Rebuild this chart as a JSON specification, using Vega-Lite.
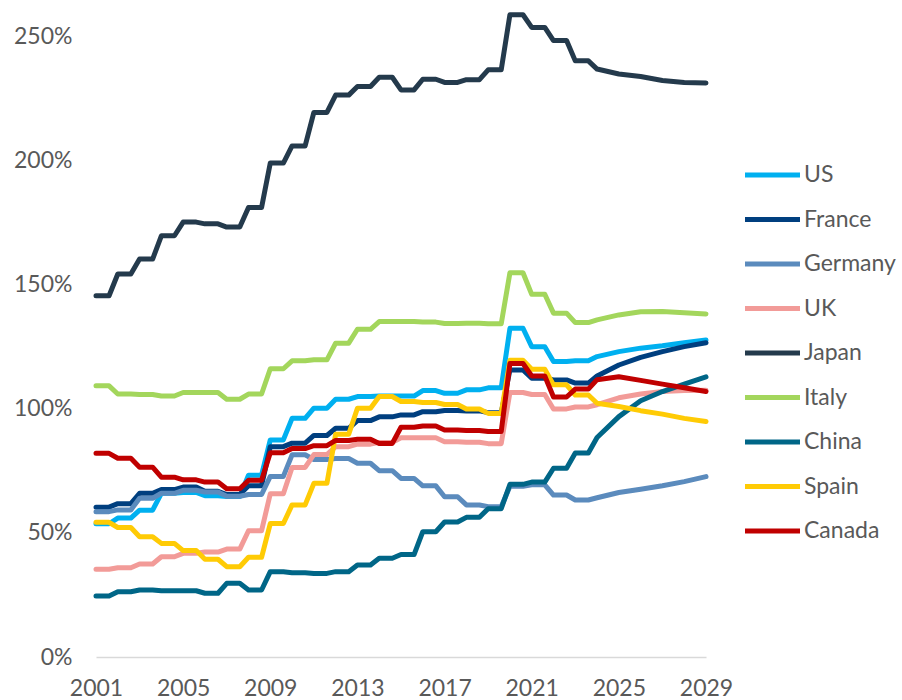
{
  "$schema": "https://vega.github.io/schema/vega-lite/v6.json",
  "autosize": {"type": "none"},
  "padding": {"left": 96, "top": 12, "right": 196, "bottom": 43},
  "width": 610,
  "height": 645,
  "background": "#ffffff",
  "config": {
    "view": {"stroke": null},
    "font": "Lato"
  },
  "data": {
    "values": [
      {"t":2001,"US":53.7,"France":60.4,"Germany":58.6,"UK":35.4,"Japan":145.6,"Italy":109.3,"China":24.6,"Spain":54.3,"Canada":82.1},
      {"t":2001.6,"US":53.7,"France":60.4,"Germany":58.6,"UK":35.4,"Japan":145.6,"Italy":109.3,"China":24.6,"Spain":54.3,"Canada":82.1},
      {"t":2002,"US":56.0,"France":61.8,"Germany":59.3,"UK":36.0,"Japan":154.4,"Italy":106.0,"China":26.3,"Spain":52.2,"Canada":80.1},
      {"t":2002.6,"US":56.0,"France":61.8,"Germany":59.3,"UK":36.0,"Japan":154.4,"Italy":106.0,"China":26.3,"Spain":52.2,"Canada":80.1},
      {"t":2003,"US":59.2,"France":66.0,"Germany":64.0,"UK":37.5,"Japan":160.4,"Italy":105.8,"China":27.0,"Spain":48.5,"Canada":76.5},
      {"t":2003.6,"US":59.2,"France":66.0,"Germany":64.0,"UK":37.5,"Japan":160.4,"Italy":105.8,"China":27.0,"Spain":48.5,"Canada":76.5},
      {"t":2004,"US":66.0,"France":67.5,"Germany":66.0,"UK":40.4,"Japan":169.8,"Italy":105.2,"China":26.7,"Spain":45.8,"Canada":72.5},
      {"t":2004.6,"US":66.0,"France":67.5,"Germany":66.0,"UK":40.4,"Japan":169.8,"Italy":105.2,"China":26.7,"Spain":45.8,"Canada":72.5},
      {"t":2005,"US":66.3,"France":68.5,"Germany":67.2,"UK":41.8,"Japan":175.3,"Italy":106.6,"China":26.7,"Spain":42.9,"Canada":71.4},
      {"t":2005.6,"US":66.3,"France":68.5,"Germany":67.2,"UK":41.8,"Japan":175.3,"Italy":106.6,"China":26.7,"Spain":42.9,"Canada":71.4},
      {"t":2006,"US":65.0,"France":66.8,"Germany":66.5,"UK":42.3,"Japan":174.6,"Italy":106.6,"China":25.7,"Spain":39.4,"Canada":70.5},
      {"t":2006.6,"US":65.0,"France":66.8,"Germany":66.5,"UK":42.3,"Japan":174.6,"Italy":106.6,"China":25.7,"Spain":39.4,"Canada":70.5},
      {"t":2007,"US":64.7,"France":65.5,"Germany":64.8,"UK":43.5,"Japan":173.3,"Italy":103.9,"China":29.7,"Spain":36.4,"Canada":67.8},
      {"t":2007.6,"US":64.7,"France":65.5,"Germany":64.8,"UK":43.5,"Japan":173.3,"Italy":103.9,"China":29.7,"Spain":36.4,"Canada":67.8},
      {"t":2008,"US":73.3,"France":69.0,"Germany":65.5,"UK":50.9,"Japan":181.2,"Italy":106.0,"China":27.0,"Spain":40.2,"Canada":71.2},
      {"t":2008.6,"US":73.3,"France":69.0,"Germany":65.5,"UK":50.9,"Japan":181.2,"Italy":106.0,"China":27.0,"Spain":40.2,"Canada":71.2},
      {"t":2009,"US":87.5,"France":84.8,"Germany":72.8,"UK":65.8,"Japan":199.1,"Italy":116.2,"China":34.4,"Spain":53.8,"Canada":82.3},
      {"t":2009.6,"US":87.5,"France":84.8,"Germany":72.8,"UK":65.8,"Japan":199.1,"Italy":116.2,"China":34.4,"Spain":53.8,"Canada":82.3},
      {"t":2010,"US":96.2,"France":86.2,"Germany":81.5,"UK":76.4,"Japan":206.0,"Italy":119.4,"China":34.0,"Spain":61.3,"Canada":84.0},
      {"t":2010.6,"US":96.2,"France":86.2,"Germany":81.5,"UK":76.4,"Japan":206.0,"Italy":119.4,"China":34.0,"Spain":61.3,"Canada":84.0},
      {"t":2011,"US":100.3,"France":89.3,"Germany":79.6,"UK":81.6,"Japan":219.5,"Italy":119.8,"China":33.7,"Spain":70.0,"Canada":85.2},
      {"t":2011.6,"US":100.3,"France":89.3,"Germany":79.6,"UK":81.6,"Japan":219.5,"Italy":119.8,"China":33.7,"Spain":70.0,"Canada":85.2},
      {"t":2012,"US":103.9,"France":92.2,"Germany":80.0,"UK":84.8,"Japan":226.5,"Italy":126.5,"China":34.4,"Spain":89.8,"Canada":87.3},
      {"t":2012.6,"US":103.9,"France":92.2,"Germany":80.0,"UK":84.8,"Japan":226.5,"Italy":126.5,"China":34.4,"Spain":89.8,"Canada":87.3},
      {"t":2013,"US":105.0,"France":95.3,"Germany":78.1,"UK":85.8,"Japan":230.0,"Italy":132.1,"China":37.1,"Spain":100.3,"Canada":87.8},
      {"t":2013.6,"US":105.0,"France":95.3,"Germany":78.1,"UK":85.8,"Japan":230.0,"Italy":132.1,"China":37.1,"Spain":100.3,"Canada":87.8},
      {"t":2014,"US":105.2,"France":96.8,"Germany":75.1,"UK":86.5,"Japan":233.7,"Italy":135.2,"China":39.8,"Spain":105.0,"Canada":86.1},
      {"t":2014.6,"US":105.2,"France":96.8,"Germany":75.1,"UK":86.5,"Japan":233.7,"Italy":135.2,"China":39.8,"Spain":105.0,"Canada":86.1},
      {"t":2015,"US":105.2,"France":97.6,"Germany":72.0,"UK":88.4,"Japan":228.6,"Italy":135.2,"China":41.3,"Spain":103.0,"Canada":92.6},
      {"t":2015.6,"US":105.2,"France":97.6,"Germany":72.0,"UK":88.4,"Japan":228.6,"Italy":135.2,"China":41.3,"Spain":103.0,"Canada":92.6},
      {"t":2016,"US":107.4,"France":98.9,"Germany":69.0,"UK":88.4,"Japan":232.9,"Italy":135.0,"China":50.5,"Spain":102.6,"Canada":93.1},
      {"t":2016.6,"US":107.4,"France":98.9,"Germany":69.0,"UK":88.4,"Japan":232.9,"Italy":135.0,"China":50.5,"Spain":102.6,"Canada":93.1},
      {"t":2017,"US":106.3,"France":99.4,"Germany":64.6,"UK":86.8,"Japan":231.6,"Italy":134.4,"China":54.4,"Spain":101.8,"Canada":91.5},
      {"t":2017.6,"US":106.3,"France":99.4,"Germany":64.6,"UK":86.8,"Japan":231.6,"Italy":134.4,"China":54.4,"Spain":101.8,"Canada":91.5},
      {"t":2018,"US":107.7,"France":99.2,"Germany":61.3,"UK":86.6,"Japan":232.7,"Italy":134.5,"China":56.3,"Spain":100.0,"Canada":91.3},
      {"t":2018.6,"US":107.7,"France":99.2,"Germany":61.3,"UK":86.6,"Japan":232.7,"Italy":134.5,"China":56.3,"Spain":100.0,"Canada":91.3},
      {"t":2019,"US":108.5,"France":98.5,"Germany":60.6,"UK":86.0,"Japan":236.7,"Italy":134.3,"China":59.8,"Spain":98.2,"Canada":90.9},
      {"t":2019.6,"US":108.5,"France":98.5,"Germany":60.6,"UK":86.0,"Japan":236.7,"Italy":134.3,"China":59.8,"Spain":98.2,"Canada":90.9},
      {"t":2020,"US":132.5,"France":115.7,"Germany":68.8,"UK":106.6,"Japan":258.9,"Italy":154.9,"China":69.6,"Spain":119.6,"Canada":118.3},
      {"t":2020.6,"US":132.5,"France":115.7,"Germany":68.8,"UK":106.6,"Japan":258.9,"Italy":154.9,"China":69.6,"Spain":119.6,"Canada":118.3},
      {"t":2021,"US":125.1,"France":112.4,"Germany":69.4,"UK":105.8,"Japan":253.8,"Italy":146.2,"China":70.5,"Spain":116.0,"Canada":113.3},
      {"t":2021.6,"US":125.1,"France":112.4,"Germany":69.4,"UK":105.8,"Japan":253.8,"Italy":146.2,"China":70.5,"Spain":116.0,"Canada":113.3},
      {"t":2022,"US":119.1,"France":111.7,"Germany":65.3,"UK":100.0,"Japan":248.5,"Italy":138.6,"China":76.1,"Spain":109.7,"Canada":104.8},
      {"t":2022.6,"US":119.1,"France":111.7,"Germany":65.3,"UK":100.0,"Japan":248.5,"Italy":138.6,"China":76.1,"Spain":109.7,"Canada":104.8},
      {"t":2023,"US":119.4,"France":110.4,"Germany":63.3,"UK":100.8,"Japan":240.3,"Italy":134.8,"China":82.2,"Spain":105.6,"Canada":108.0},
      {"t":2023.6,"US":119.4,"France":110.4,"Germany":63.3,"UK":100.8,"Japan":240.3,"Italy":134.8,"China":82.2,"Spain":105.6,"Canada":108.0},
      {"t":2024,"US":121.1,"France":113.3,"Germany":64.2,"UK":101.7,"Japan":237.0,"Italy":135.9,"China":88.5,"Spain":102.3,"Canada":111.8},
      {"t":2025,"US":123.1,"France":117.7,"Germany":66.3,"UK":104.5,"Japan":235.0,"Italy":137.9,"China":96.9,"Spain":101.0,"Canada":113.0},
      {"t":2026,"US":124.5,"France":120.8,"Germany":67.6,"UK":106.0,"Japan":234.0,"Italy":139.2,"China":103.3,"Spain":99.3,"Canada":111.5},
      {"t":2027,"US":125.5,"France":123.1,"Germany":69.0,"UK":107.0,"Japan":232.4,"Italy":139.3,"China":107.0,"Spain":97.9,"Canada":110.0},
      {"t":2028,"US":126.7,"France":125.1,"Germany":70.7,"UK":107.4,"Japan":231.6,"Italy":138.8,"China":110.0,"Spain":96.2,"Canada":108.5},
      {"t":2029,"US":127.8,"France":126.7,"Germany":72.7,"UK":107.5,"Japan":231.4,"Italy":138.3,"China":112.9,"Spain":94.9,"Canada":107.0}
    ]
  },
  "transform": [
    {"fold": ["US","France","Germany","UK","Japan","Italy","China","Spain","Canada"], "as": ["country","value"]}
  ],
  "mark": {"type": "line", "strokeWidth": 5, "strokeCap": "round", "strokeJoin": "round", "interpolate": "linear"},
  "encoding": {
    "x": {
      "field": "t", "type": "quantitative",
      "scale": {"domain": [2001, 2029], "nice": false, "zero": false},
      "axis": {
        "title": null, "values": [2001,2005,2009,2013,2017,2021,2025,2029], "format": "d",
        "grid": false, "ticks": false, "domain": true, "domainColor": "#d9d9d9", "domainWidth": 1.5,
        "labelFont": "Lato", "labelFontSize": 23, "labelColor": "#595959", "labelPadding": 20,
        "labelFlush": false, "labelOverlap": false
      }
    },
    "y": {
      "field": "value", "type": "quantitative",
      "scale": {"domain": [0, 260], "nice": false},
      "axis": {
        "title": null, "values": [0,50,100,150,200,250], "labelExpr": "datum.value + '%'",
        "grid": false, "ticks": false, "domain": false,
        "labelFont": "Lato", "labelFontSize": 23, "labelColor": "#595959", "labelPadding": 24
      }
    },
    "color": {
      "field": "country", "type": "nominal",
      "scale": {
        "domain": ["US","France","Germany","UK","Japan","Italy","China","Spain","Canada"],
        "range": ["#00b0f0","#003f7f","#5b8bbd","#f29b98","#243a4c","#a3d65c","#006687","#ffcb05","#c00000"]
      },
      "legend": {
        "title": null, "orient": "none", "legendX": 646.5, "legendY": 133,
        "symbolType": "stroke", "symbolSize": 3025, "symbolStrokeWidth": 5,
        "labelFont": "Lato", "labelFontSize": 23, "labelColor": "#595959",
        "labelOffset": 1.5, "rowPadding": 2.5, "padding": 0
      }
    }
  }
}
